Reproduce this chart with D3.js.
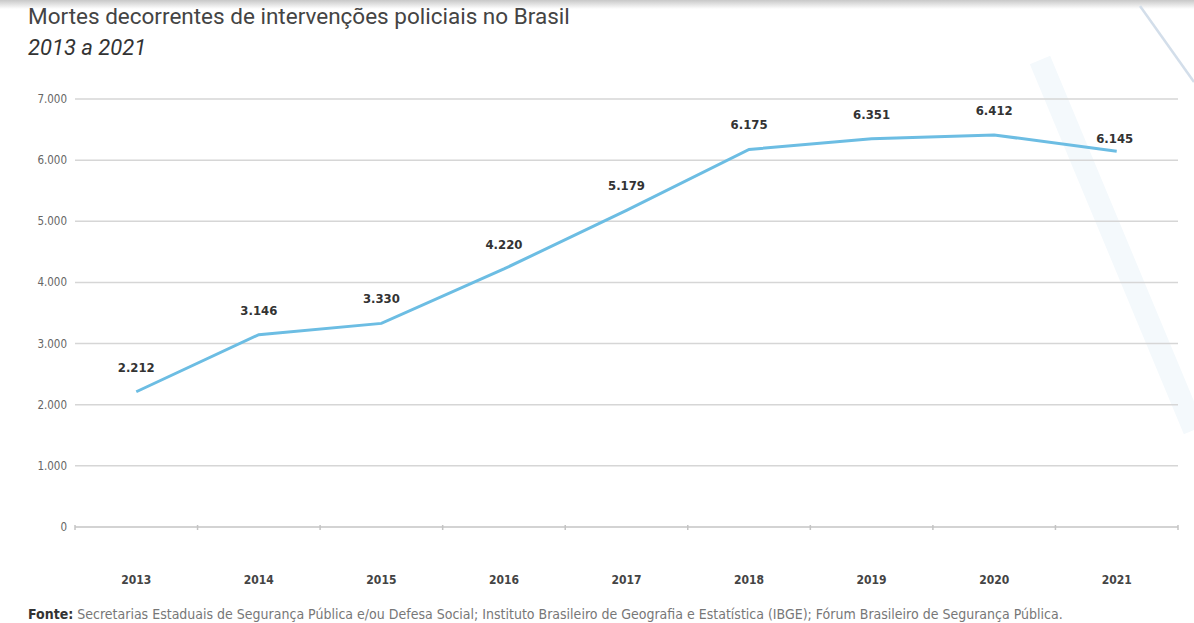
<!DOCTYPE html>
<html>
<head>
<meta charset="utf-8">
<script src="https://cdn.jsdelivr.net/npm/d3@7"></script>
<style>
  body { margin: 0; background: #fff; }
  svg { display: block; }
  text { font-family: "DejaVu Sans Condensed", "Roboto", sans-serif; }
</style>
</head>
<body>
<svg id="chart"></svg>
<script>
// data
const years = ["2013", "2014", "2015", "2016", "2017", "2018", "2019", "2020", "2021"];
const deaths = [2212, 3146, 3330, 4220, 5179, 6175, 6351, 6412, 6145];
const yTicks = [0, 1000, 2000, 3000, 4000, 5000, 6000, 7000];

const width = 1194;
const height = 623;
const margin = { top: 99, right: 16, bottom: 96, left: 75 };

const svg = d3.select("#chart")
  .attr("width", width)
  .attr("height", height);

// top shadow strip
const defs = svg.append("defs");
const grad = defs.append("linearGradient")
  .attr("id", "shade")
  .attr("x1", 0).attr("y1", 0).attr("x2", 0).attr("y2", 1);
grad.append("stop").attr("offset", "0%").attr("stop-color", "#c8c8c8");
grad.append("stop").attr("offset", "100%").attr("stop-color", "#fff");
svg.append("rect")
  .attr("x", 0).attr("y", 0)
  .attr("width", width).attr("height", 9)
  .attr("fill", "url(#shade)");

// faint decorative diagonals on the right
svg.append("path")
  .attr("d", "M1040,60 L1194,430")
  .attr("stroke", "#f4f9fc")
  .attr("stroke-width", 22)
  .attr("fill", "none");
svg.append("path")
  .attr("d", "M1140,6 L1194,82")
  .attr("stroke", "#d3deea")
  .attr("stroke-width", 2.5)
  .attr("fill", "none");

// scales
const x = d3.scalePoint()
  .domain(years)
  .range([margin.left, width - margin.right])
  .padding(0.5);

const y = d3.scaleLinear()
  .domain([0, 7000])
  .range([height - margin.bottom, margin.top]);

const fmt = v => d3.format(",")(v).replace(/,/g, ".");

// gridlines
svg.append("g")
  .selectAll("line")
  .data(yTicks)
  .join("line")
  .attr("x1", margin.left)
  .attr("x2", width - margin.right)
  .attr("y1", d => y(d))
  .attr("y2", d => y(d))
  .attr("stroke", d => d === 0 ? "#c4c4c4" : "#d6d6d6")
  .attr("stroke-width", 1.5);

// y labels
svg.append("g")
  .selectAll("text")
  .data(yTicks)
  .join("text")
  .attr("x", margin.left - 8)
  .attr("y", d => y(d))
  .attr("dy", "0.35em")
  .attr("text-anchor", "end")
  .attr("fill", "#666")
  .style("font-size", "11.5px")
  .text(d => fmt(d));

// small ticks between categories on the baseline
const step = x.step();
svg.append("g")
  .selectAll("line")
  .data(years.concat(["end"]))
  .join("line")
  .attr("x1", (d, i) => x(years[0]) - step / 2 + i * step)
  .attr("x2", (d, i) => x(years[0]) - step / 2 + i * step)
  .attr("y1", y(0) - 2)
  .attr("y2", y(0) + 3)
  .attr("stroke", "#c4c4c4")
  .attr("stroke-width", 1.5);

// x labels
svg.append("g")
  .selectAll("text")
  .data(years)
  .join("text")
  .attr("x", d => x(d))
  .attr("y", y(0) + 57)
  .attr("text-anchor", "middle")
  .attr("fill", "#444")
  .style("font-size", "12px")
  .style("font-weight", "bold")
  .text(d => d);

// line
const line = d3.line()
  .x((d, i) => x(years[i]))
  .y(d => y(d));

svg.append("path")
  .datum(deaths)
  .attr("d", line)
  .attr("fill", "none")
  .attr("stroke", "#6cbde3")
  .attr("stroke-width", 3);

// value labels
svg.append("g")
  .selectAll("text")
  .data(deaths)
  .join("text")
  .attr("x", (d, i) => x(years[i]) + (i === 8 ? -2 : 0))
  .attr("y", (d, i) => y(d) - (i === 8 ? 8 : 20))
  .attr("text-anchor", "middle")
  .attr("fill", "#333")
  .style("font-size", "13px")
  .style("font-weight", "bold")
  .text(d => fmt(d));

// title
svg.append("text")
  .attr("x", 28)
  .attr("y", 24)
  .attr("fill", "#444")
  .style("font-family", "Roboto, sans-serif")
  .style("font-size", "22.5px")
  .text("Mortes decorrentes de intervenções policiais no Brasil");

svg.append("text")
  .attr("x", 28)
  .attr("y", 55)
  .attr("fill", "#333")
  .style("font-family", "Roboto, sans-serif")
  .style("font-size", "22px")
  .style("font-style", "italic")
  .text("2013 a 2021");

// source
const src = svg.append("text")
  .attr("x", 28)
  .attr("y", 619)
  .attr("fill", "#777")
  .style("font-size", "14px");
src.append("tspan")
  .style("font-weight", "bold")
  .attr("fill", "#333")
  .text("Fonte:");
src.append("tspan")
  .text(" Secretarias Estaduais de Segurança Pública e/ou Defesa Social; Instituto Brasileiro de Geografia e Estatística (IBGE); Fórum Brasileiro de Segurança Pública.");
</script>
</body>
</html>
